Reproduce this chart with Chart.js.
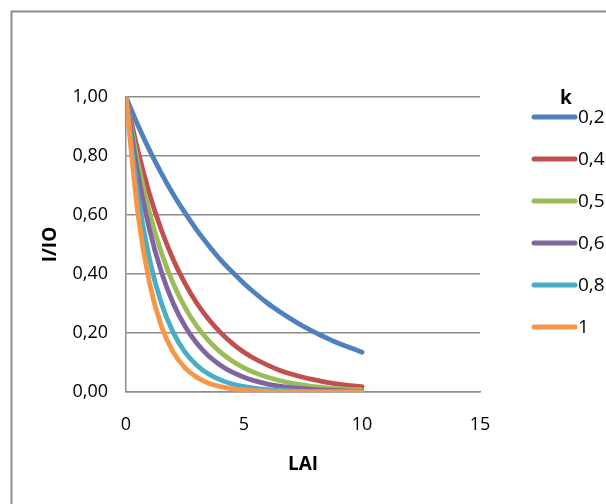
<!DOCTYPE html>
<html>
<head>
<meta charset="utf-8">
<script src="https://cdn.jsdelivr.net/npm/chart.js@4/dist/chart.umd.min.js"></script>
<style>
html,body{margin:0;padding:0;background:#fff;}
#wrap{width:606px;height:504px;position:relative;}
</style>
</head>
<body>
<div id="wrap"><canvas id="c" width="606" height="504"></canvas></div>
<script>
// ---- data ----
const lai = [0, 0.5, 1, 1.5, 2, 2.5, 3, 3.5, 4, 4.5, 5, 5.5, 6, 6.5, 7, 7.5, 8, 8.5, 9, 9.5, 10];
const kLabels = ['0,2', '0,4', '0,5', '0,6', '0,8', '1'];
const k02 = [1, 0.905, 0.819, 0.741, 0.670, 0.607, 0.549, 0.497, 0.449, 0.407, 0.368, 0.333, 0.301, 0.273, 0.247, 0.223, 0.202, 0.183, 0.165, 0.150, 0.135];
const k04 = [1, 0.819, 0.670, 0.549, 0.449, 0.368, 0.301, 0.247, 0.202, 0.165, 0.135, 0.111, 0.091, 0.074, 0.061, 0.050, 0.041, 0.033, 0.027, 0.022, 0.018];
const k05 = [1, 0.779, 0.607, 0.472, 0.368, 0.287, 0.223, 0.174, 0.135, 0.105, 0.082, 0.064, 0.050, 0.039, 0.030, 0.024, 0.018, 0.014, 0.011, 0.009, 0.007];
const k06 = [1, 0.741, 0.549, 0.407, 0.301, 0.223, 0.165, 0.122, 0.091, 0.067, 0.050, 0.037, 0.027, 0.020, 0.015, 0.011, 0.008, 0.006, 0.005, 0.003, 0.002];
const k08 = [1, 0.670, 0.449, 0.301, 0.202, 0.135, 0.091, 0.061, 0.041, 0.027, 0.018, 0.012, 0.008, 0.006, 0.004, 0.002, 0.002, 0.001, 0.001, 0.001, 0.000];
const k10 = [1, 0.607, 0.368, 0.223, 0.135, 0.082, 0.050, 0.030, 0.018, 0.011, 0.007, 0.004, 0.002, 0.002, 0.001, 0.001, 0.000, 0.000, 0.000, 0.000, 0.000];
const xTicks = [0, 5, 10, 15];
const yTicks = [0, 0.2, 0.4, 0.6, 0.8, 1.0];
const xTitle = 'LAI';
const yTitle = 'I/IO';
const legendTitle = 'k';

const series = [k02, k04, k05, k06, k08, k10];
const colors = ['#4F81BD', '#C0504D', '#9BBB59', '#8064A2', '#4BACC6', '#F79646'];
const FONT = "'Open Sans', sans-serif";
const GRID = '#8C8C8C';

const datasets = series.map((vals, i) => ({
  label: kLabels[i],
  data: lai.map((x, j) => ({x: x, y: vals[j]})),
  borderColor: colors[i],
  backgroundColor: colors[i],
  borderWidth: 4.8,
  pointRadius: 0,
  cubicInterpolationMode: 'monotone',
  fill: false,
  order: series.length - 1 - i,
  borderCapStyle: 'round'
}));

const framePlugin = {
  id: 'frame',
  beforeDraw(chart) {
    const ctx = chart.ctx;
    ctx.save();
    ctx.fillStyle = '#fff';
    ctx.fillRect(0, 0, chart.width, chart.height);
    ctx.strokeStyle = '#8C8C8C';
    ctx.lineWidth = 2;
    ctx.strokeRect(11.5, 11.5, 800, 800);
    ctx.restore();
  },
  afterDraw(chart) {
    const ctx = chart.ctx;
    ctx.save();
    ctx.fillStyle = '#000';
    ctx.textBaseline = 'middle';
    ctx.textAlign = 'center';
    ctx.font = "bold 19px " + FONT;
    ctx.fillText(legendTitle, 566, 99);
    ctx.font = "19px " + FONT;
    ctx.textAlign = 'left';
    chart.data.datasets.forEach((ds, i) => {
      const y = 117 + 42 * i;
      ctx.strokeStyle = ds.borderColor;
      ctx.lineWidth = 5;
      ctx.lineCap = 'round';
      ctx.beginPath();
      ctx.moveTo(534, y);
      ctx.lineTo(575, y);
      ctx.stroke();
      ctx.fillText(ds.label, 578, y + 1);
    });
    ctx.restore();
  }
};

new Chart(document.getElementById('c'), {
  type: 'line',
  data: { datasets },
  plugins: [framePlugin],
  options: {
    responsive: false,
    animation: false,
    layout: { padding: { left: 0, right: 126, top: 97, bottom: 0 } },
    plugins: { legend: { display: false }, tooltip: { enabled: false } },
    scales: {
      x: {
        type: 'linear',
        min: 0, max: 15,
        afterBuildTicks: s => { s.ticks = xTicks.map(v => ({value: v})); },
        afterFit: s => { s.height = 112; },
        grid: { display: false, drawTicks: false },
        border: { display: true, color: GRID, width: 1.5 },
        ticks: { color: '#000', font: { family: FONT, size: 18 }, padding: 22, maxRotation: 0 },
        title: { display: true, text: xTitle, color: '#000', font: { family: FONT, size: 19, weight: 'bold' }, padding: { top: 0, bottom: 28 } }
      },
      y: {
        type: 'linear',
        min: 0, max: 1,
        afterBuildTicks: s => { s.ticks = yTicks.map(v => ({value: v})); },
        afterFit: s => { s.width = 126; },
        grid: { color: GRID, lineWidth: 1.5, drawTicks: false },
        border: { display: true, color: GRID, width: 1.5 },
        ticks: { color: '#000', font: { family: FONT, size: 18 }, padding: 18,
          callback: v => v.toFixed(2).replace('.', ',') },
        title: { display: true, text: yTitle, color: '#000', font: { family: FONT, size: 19, weight: 'bold' }, padding: { top: 39, bottom: 0 } }
      }
    }
  }
});
</script>
</body>
</html>
